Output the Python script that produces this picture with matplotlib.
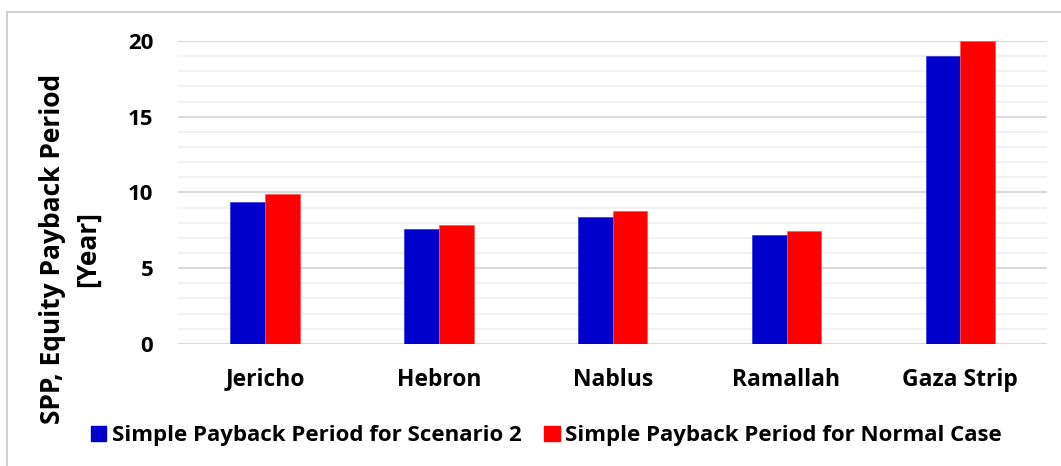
import matplotlib
matplotlib.use("Agg")
import matplotlib.pyplot as plt
import numpy as np
from matplotlib.patches import Rectangle, Patch

categories = ["Jericho", "Hebron", "Nablus", "Ramallah", "Gaza Strip"]
scenario2 = [9.35, 7.57, 8.38, 7.17, 19.0]
normal_case = [9.9, 7.85, 8.76, 7.46, 20.0]
series_names = ["Simple Payback Period for Scenario 2", "Simple Payback Period for Normal Case"]
yticks = [0, 5, 10, 15, 20]

plt.rcParams['font.family'] = ['Open Sans', 'DejaVu Sans']
plt.rcParams['font.weight'] = 'bold'

fig = plt.figure(figsize=(10.61, 4.66), dpi=100)
ax = fig.add_axes([0.168, 0.262, 0.819, 0.650])

x = np.arange(len(categories))
w = 0.2
ax.bar(x - w/2, scenario2, w, color="#0000CC", edgecolor="#3333dd", linewidth=0.5, label=series_names[0], zorder=3)
ax.bar(x + w/2, normal_case, w, color="#FF0000", edgecolor="#ff5555", linewidth=0.5, label=series_names[1], zorder=3)

ax.set_xlim(-0.5, len(categories) - 0.5)
ax.set_ylim(0, 20)
ax.set_yticks(yticks)
ax.set_yticks(np.arange(0, 21, 1), minor=True)
ax.yaxis.grid(True, which='major', color="#d9d9d9", linewidth=1.5, zorder=0)
ax.yaxis.grid(True, which='minor', color="#f2f2f2", linewidth=1.5, zorder=0)
ax.set_axisbelow(True)
for s in ax.spines.values():
    s.set_visible(False)
ax.tick_params(axis='both', which='both', length=0)
ax.tick_params(axis='y', pad=18, labelsize=16)
ax.tick_params(axis='x', pad=17, labelsize=16.5)
ax.set_xticks(x)
ax.set_xticklabels(categories, fontweight='bold')
for t in ax.get_yticklabels():
    t.set_fontweight('bold')

fig.text(0.066, 0.465, "SPP, Equity Payback Period\n[Year]", rotation=90, ha='center', va='center',
         fontsize=19, fontweight='bold', linespacing=1.4)

handles = [Patch(color="#0000CC"), Patch(color="#FF0000")]
fig.legend(handles, series_names, loc='center', bbox_to_anchor=(0.515, 0.065), ncol=2, frameon=False,
           prop={'size': 16, 'weight': 'bold'}, handlelength=0.7, handleheight=0.7,
           handletextpad=0.25, columnspacing=1.0)

fig.patches.append(Rectangle((7/1061, -0.1), 1.2, 1 - 12/466 + 0.1, transform=fig.transFigure,
                             fill=False, edgecolor="#c8c8c8", linewidth=1.2))

fig.savefig("out.png", dpi=100)
